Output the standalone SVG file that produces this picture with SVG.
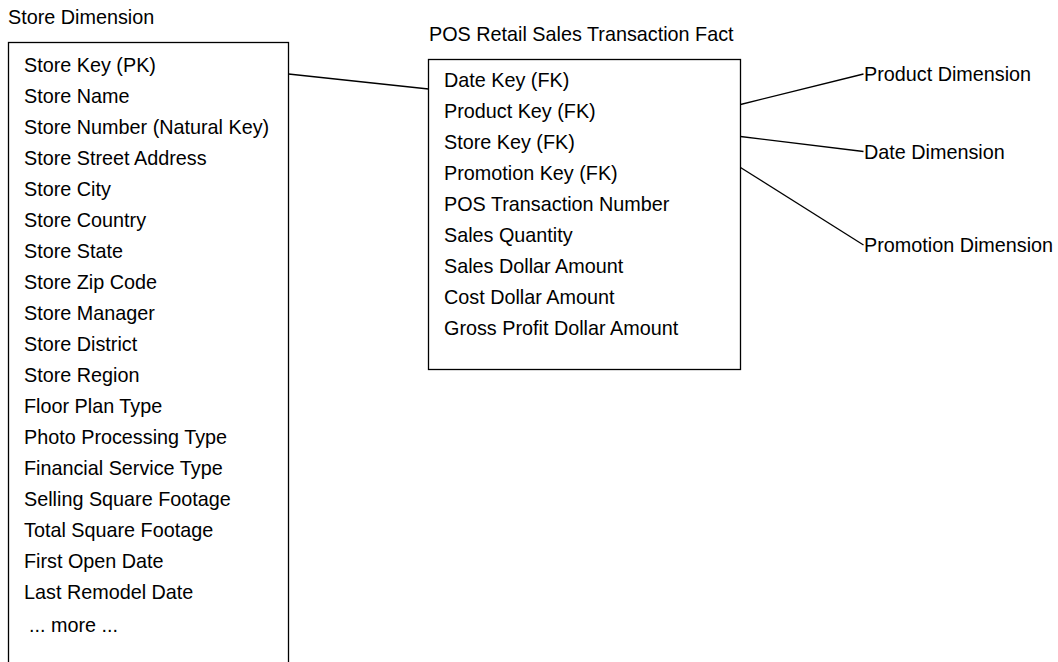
<svg xmlns="http://www.w3.org/2000/svg" width="1058" height="662" viewBox="0 0 1058 662">
<style>
.bg { fill: #ffffff; }
.box { fill: #ffffff; stroke: #000000; stroke-width: 1.3; }
.conn { fill: none; stroke: #000000; stroke-width: 1.3; }
text { font-family: "Liberation Sans", Arial, Helvetica, sans-serif; font-size: 19.8px; fill: #000000; }
</style>
<rect class="bg" x="0" y="0" width="1058" height="662"/>
<g id="store-dimension">
  <text x="8" y="24">Store Dimension</text>
  <rect class="box" x="8.5" y="42.5" width="280" height="640"/>
  <text x="24" y="72">Store Key (PK)</text>
  <text x="24" y="103">Store Name</text>
  <text x="24" y="134">Store Number (Natural Key)</text>
  <text x="24" y="165">Store Street Address</text>
  <text x="24" y="196">Store City</text>
  <text x="24" y="227">Store Country</text>
  <text x="24" y="258">Store State</text>
  <text x="24" y="289">Store Zip Code</text>
  <text x="24" y="320">Store Manager</text>
  <text x="24" y="351">Store District</text>
  <text x="24" y="382">Store Region</text>
  <text x="24" y="413">Floor Plan Type</text>
  <text x="24" y="444">Photo Processing Type</text>
  <text x="24" y="475">Financial Service Type</text>
  <text x="24" y="506">Selling Square Footage</text>
  <text x="24" y="537">Total Square Footage</text>
  <text x="24" y="568">First Open Date</text>
  <text x="24" y="599">Last Remodel Date</text>
  <text x="29" y="632">... more ...</text>
</g>
<g id="pos-fact">
  <text x="429" y="40.5">POS Retail Sales Transaction Fact</text>
  <rect class="box" x="428.5" y="59.5" width="312" height="310"/>
  <text x="444" y="87">Date Key (FK)</text>
  <text x="444" y="118">Product Key (FK)</text>
  <text x="444" y="149">Store Key (FK)</text>
  <text x="444" y="180">Promotion Key (FK)</text>
  <text x="444" y="211">POS Transaction Number</text>
  <text x="444" y="242">Sales Quantity</text>
  <text x="444" y="273">Sales Dollar Amount</text>
  <text x="444" y="304">Cost Dollar Amount</text>
  <text x="444" y="335">Gross Profit Dollar Amount</text>
</g>
<g id="product-dimension">
  <text x="864" y="81">Product Dimension</text>
</g>
<g id="date-dimension">
  <text x="864" y="158.5">Date Dimension</text>
</g>
<g id="promotion-dimension">
  <text x="864" y="252">Promotion Dimension</text>
</g>
<g id="connectors">
  <line class="conn" x1="288.5" y1="74" x2="428.5" y2="89"/>
  <line class="conn" x1="740.5" y1="104.5" x2="863.5" y2="74"/>
  <line class="conn" x1="740.5" y1="136.5" x2="863.5" y2="151.5"/>
  <line class="conn" x1="740.5" y1="167.5" x2="863.5" y2="245"/>
</g>
</svg>
